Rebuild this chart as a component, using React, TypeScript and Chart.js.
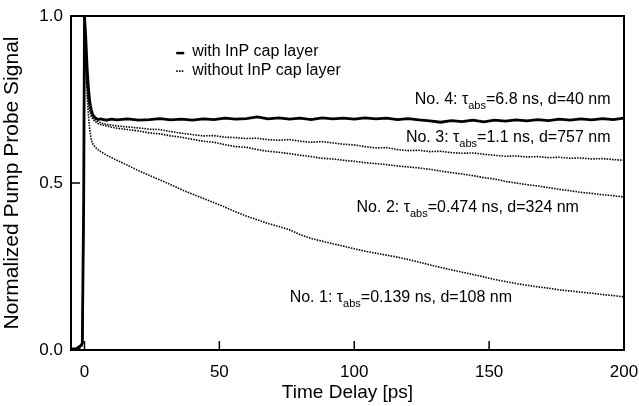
import React, { useEffect, useRef } from "react";
import { Chart, registerables } from "chart.js";

Chart.register(...registerables);

// ---- data ----
const TIME = [
  -5, -3, -1.5, -0.8, -0.3, 0, 0.5, 1, 1.5, 2, 2.5, 3, 4, 5, 6, 8, 10, 12,
  16, 20, 24, 28, 32, 36, 40, 44, 48, 52, 56, 60, 64, 68, 72, 76, 80, 84, 88, 92, 96,
  100, 104, 108, 112, 116, 120, 124, 128, 132, 136, 140, 144, 148, 152, 156, 160,
  164, 168, 172, 176, 180, 184, 188, 192, 196, 200,
];

// No. 4: with InP cap layer (solid)
const NO4 = [
  0.003, 0.004, 0.012, 0.02, 0.45, 1.0, 0.93, 0.84, 0.78, 0.74, 0.72, 0.705, 0.695, 0.69, 0.692, 0.688, 0.691, 0.689,
  0.692, 0.688, 0.69, 0.693, 0.689, 0.691, 0.688, 0.692, 0.69, 0.694, 0.691, 0.693, 0.698, 0.692, 0.695, 0.691, 0.694, 0.69, 0.695, 0.692, 0.694,
  0.691, 0.695, 0.692, 0.694, 0.69, 0.693, 0.689, 0.686, 0.682, 0.687, 0.684, 0.688, 0.683, 0.688, 0.685, 0.689,
  0.686, 0.69, 0.687, 0.691, 0.688, 0.692, 0.689, 0.693, 0.69, 0.694,
];

// No. 3 (dotted)
const NO3 = [
  0.002, 0.003, 0.008, 0.015, 0.4, 0.97, 0.88, 0.8, 0.75, 0.72, 0.705, 0.697, 0.69, 0.684, 0.68, 0.676, 0.673, 0.671,
  0.668, 0.665, 0.661, 0.66, 0.654, 0.649, 0.645, 0.641, 0.642, 0.637, 0.636, 0.633, 0.634, 0.63, 0.628, 0.63, 0.625, 0.622, 0.624, 0.62, 0.616,
  0.614, 0.609, 0.605, 0.606, 0.6, 0.597, 0.598, 0.594, 0.595, 0.591, 0.589, 0.59, 0.586, 0.583, 0.58, 0.581,
  0.578, 0.579, 0.576, 0.577, 0.574, 0.575, 0.572, 0.573, 0.57, 0.568,
];

// No. 2 (dotted)
const NO2 = [
  0.002, 0.003, 0.008, 0.015, 0.4, 0.97, 0.87, 0.79, 0.745, 0.715, 0.7, 0.692, 0.684, 0.678, 0.675, 0.671, 0.667, 0.664,
  0.66, 0.656, 0.65, 0.647, 0.641, 0.637, 0.631, 0.625, 0.622, 0.615, 0.609, 0.607, 0.6, 0.595, 0.592, 0.588, 0.583, 0.579, 0.574, 0.572, 0.568,
  0.565, 0.561, 0.558, 0.555, 0.551, 0.548, 0.545, 0.541, 0.536, 0.531, 0.527, 0.522, 0.516, 0.512, 0.505, 0.5,
  0.495, 0.491, 0.486, 0.481, 0.477, 0.472, 0.469, 0.465, 0.462, 0.458,
];

// No. 1 (dotted)
const NO1 = [
  0.002, 0.003, 0.008, 0.015, 0.4, 0.96, 0.86, 0.76, 0.7, 0.655, 0.63, 0.618, 0.607, 0.6, 0.594, 0.584, 0.576, 0.568,
  0.553, 0.537, 0.523, 0.509, 0.495, 0.48, 0.467, 0.454, 0.441, 0.428, 0.414, 0.401, 0.39, 0.379, 0.37, 0.36, 0.345, 0.334, 0.326, 0.318, 0.311,
  0.303, 0.296, 0.29, 0.284, 0.278, 0.271, 0.263, 0.255, 0.247, 0.24, 0.233, 0.226, 0.219, 0.211, 0.205, 0.199,
  0.194, 0.189, 0.185, 0.18, 0.177, 0.173, 0.17, 0.166, 0.163, 0.159,
];

const X_TICKS = [0, 50, 100, 150, 200];
const Y_TICKS = [0, 0.5, 1.0];

const LEGEND_TEXT = ["with InP cap layer", "without InP cap layer"];
const LABEL_PRE = ["No. 4: τ", "No. 3: τ", "No. 2: τ", "No. 1: τ"];
const LABEL_SUB = "abs";
const LABEL_POST = ["=6.8 ns, d=40 nm", "=1.1 ns, d=757 nm", "=0.474 ns, d=324 nm", "=0.139 ns, d=108 nm"];

// layout (label anchors in data coordinates: right end x, middle y)
const LABEL_X = [195, 195, 183.3, 158.5];
const LABEL_Y = [0.749, 0.635, 0.425, 0.156];
const LEGEND_X = 34;
const LEGEND_Y = [0.892, 0.838];

const FONT = "'Liberation Sans', Arial, Helvetica, sans-serif";

const xy = (ys: number[]) => TIME.map((t, i) => ({ x: t, y: ys[i] }));

const overlay = {
  id: "overlay",
  afterDraw(chart: any) {
    const { ctx, chartArea: a, scales } = chart;
    const xs = scales.x;
    const ys = scales.y;
    ctx.save();
    ctx.strokeStyle = "#000";
    ctx.fillStyle = "#000";
    // frame
    ctx.lineWidth = 2;
    ctx.strokeRect(a.left, a.top, a.right - a.left, a.bottom - a.top);
    // inward ticks
    ctx.lineWidth = 1.5;
    ctx.beginPath();
    for (const v of X_TICKS) {
      const px = xs.getPixelForValue(v);
      ctx.moveTo(px, a.bottom);
      ctx.lineTo(px, a.bottom - 9);
    }
    for (const v of Y_TICKS) {
      const py = ys.getPixelForValue(v);
      ctx.moveTo(a.left, py);
      ctx.lineTo(a.left + 9, py);
    }
    ctx.stroke();

    // legend
    const lx = xs.getPixelForValue(LEGEND_X);
    ctx.font = `16px ${FONT}`;
    ctx.textBaseline = "middle";
    ctx.textAlign = "left";
    LEGEND_TEXT.forEach((txt, i) => {
      const py = ys.getPixelForValue(LEGEND_Y[i]);
      ctx.beginPath();
      if (i === 0) {
        ctx.lineWidth = 2.5;
        ctx.setLineDash([]);
      } else {
        ctx.lineWidth = 1.6;
        ctx.setLineDash([1.5, 1.3]);
      }
      ctx.moveTo(lx, py + 1);
      ctx.lineTo(lx + 8, py + 1);
      ctx.stroke();
      ctx.setLineDash([]);
      ctx.fillText(txt, lx + 16, py);
    });

    // curve labels with subscript
    LABEL_PRE.forEach((pre, i) => {
      const post = LABEL_POST[i];
      ctx.font = `16px ${FONT}`;
      const w1 = ctx.measureText(pre).width;
      const w3 = ctx.measureText(post).width;
      ctx.font = `11px ${FONT}`;
      const w2 = ctx.measureText(LABEL_SUB).width;
      const right = xs.getPixelForValue(LABEL_X[i]);
      const py = ys.getPixelForValue(LABEL_Y[i]);
      let x0 = right - (w1 + w2 + w3);
      ctx.textAlign = "left";
      ctx.textBaseline = "middle";
      ctx.font = `16px ${FONT}`;
      ctx.fillText(pre, x0, py);
      x0 += w1;
      ctx.font = `11px ${FONT}`;
      ctx.fillText(LABEL_SUB, x0, py + 6);
      x0 += w2;
      ctx.font = `16px ${FONT}`;
      ctx.fillText(post, x0, py);
    });
    ctx.restore();
  },
};

export default function App() {
  const ref = useRef<HTMLCanvasElement | null>(null);
  useEffect(() => {
    if (!ref.current) return;
    const dotted = {
      borderColor: "#000",
      borderWidth: 1.6,
      borderDash: [1.5, 1.2],
      pointRadius: 0,
      tension: 0,
      fill: false,
    };
    const chart = new Chart(ref.current, {
      type: "line",
      data: {
        datasets: [
          { label: "No. 1", data: xy(NO1), ...dotted },
          { label: "No. 2", data: xy(NO2), ...dotted },
          { label: "No. 3", data: xy(NO3), ...dotted },
          {
            label: "No. 4",
            data: xy(NO4),
            borderColor: "#000",
            borderWidth: 2.8,
            pointRadius: 0,
            tension: 0,
            fill: false,
          },
        ],
      },
      options: {
        animation: false,
        responsive: false,
        devicePixelRatio: 1,
        layout: { padding: { top: 16, right: 15, left: 0, bottom: 0 } },
        plugins: { legend: { display: false }, tooltip: { enabled: false } },
        scales: {
          x: {
            type: "linear",
            min: -5,
            max: 200,
            grid: { display: false, drawTicks: false },
            border: { display: false },
            afterBuildTicks: (s: any) => {
              s.ticks = X_TICKS.map((v) => ({ value: v }));
            },
            afterFit: (s: any) => {
              s.height = 56;
              s.paddingLeft = 0;
              s.paddingRight = 0;
            },
            ticks: {
              color: "#000",
              padding: 12,
              maxRotation: 0,
              font: { family: FONT, size: 17 },
              callback: (v: any) => String(v),
            },
            title: {
              display: true,
              text: "Time Delay [ps]",
              color: "#000",
              font: { family: FONT, size: 19 },
              padding: { top: 0, bottom: 2 },
            },
          },
          y: {
            type: "linear",
            min: 0,
            max: 1,
            grid: { display: false, drawTicks: false },
            border: { display: false },
            afterBuildTicks: (s: any) => {
              s.ticks = Y_TICKS.map((v) => ({ value: v }));
            },
            afterFit: (s: any) => {
              s.width = 71;
              s.paddingTop = 0;
              s.paddingBottom = 0;
            },
            ticks: {
              color: "#000",
              padding: 8,
              font: { family: FONT, size: 17 },
              callback: (v: any) => Number(v).toFixed(1),
            },
            title: {
              display: true,
              text: "Normalized Pump Probe Signal",
              color: "#000",
              font: { family: FONT, size: 21 },
              padding: { top: 0, bottom: 0 },
            },
          },
        },
      },
      plugins: [overlay],
    });
    return () => chart.destroy();
  }, []);
  return (
    <div style={{ position: "absolute", left: 0, top: 0, width: 639, height: 406, background: "#fff" }}>
      <canvas ref={ref} width={639} height={406} />
    </div>
  );
}
